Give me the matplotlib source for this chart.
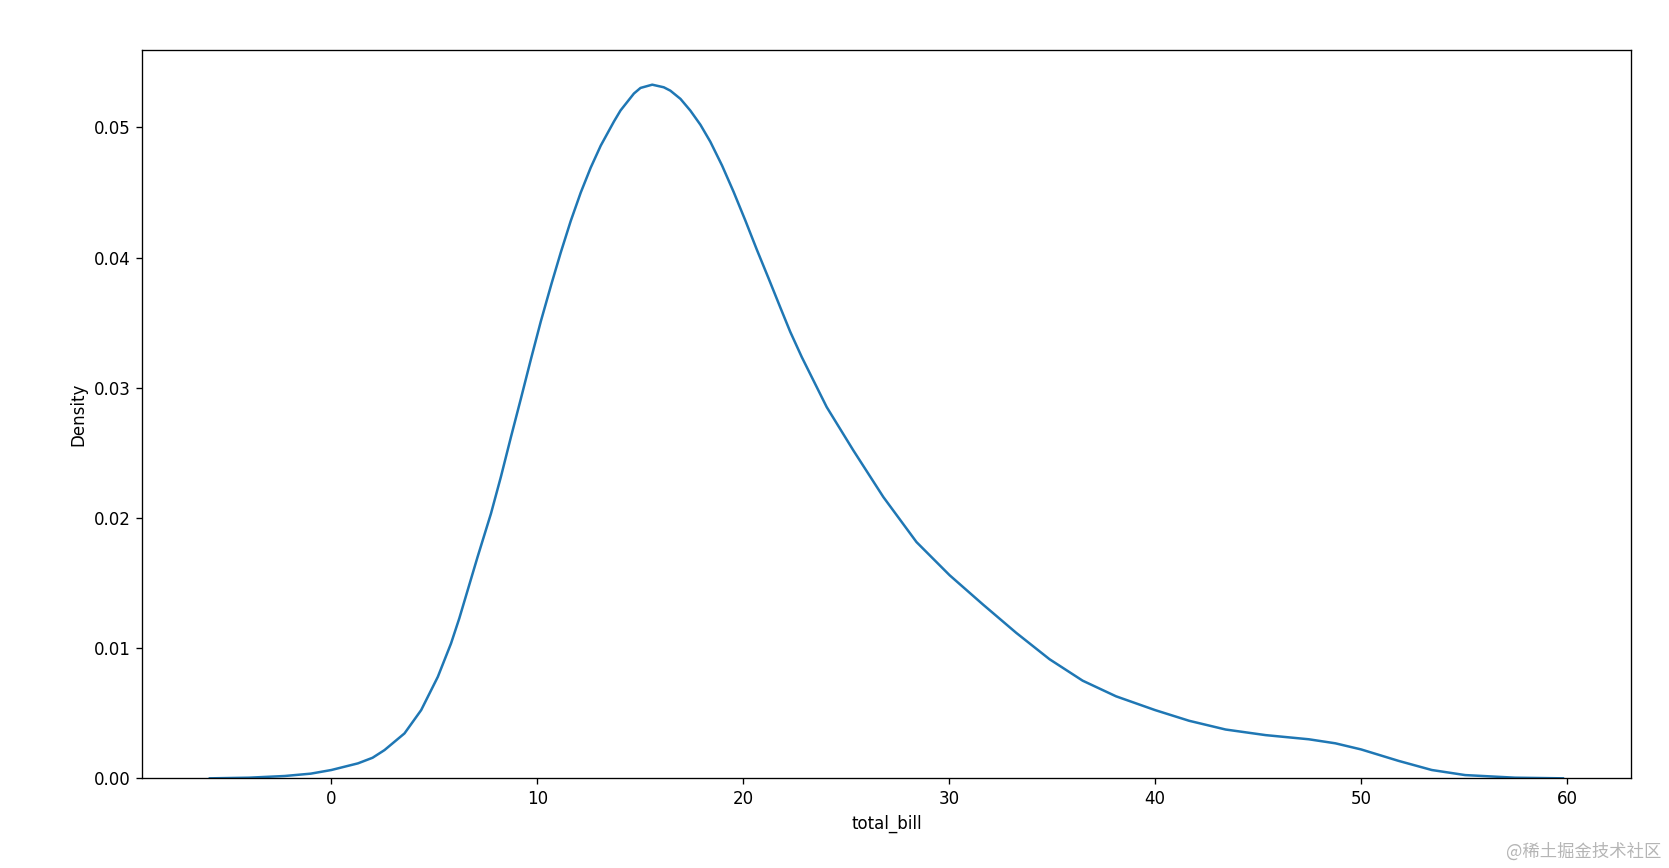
import matplotlib
matplotlib.use("Agg")
import matplotlib.pyplot as plt

# KDE curve of total_bill
total_bill = [-5.9, -4.0, -2.26, -1.0, 0.0, 1.29, 2.0, 2.58, 3.55, 4.36,
              5.17, 5.81, 6.21, 7.10, 7.75, 8.23, 8.72, 9.20, 9.69, 10.17,
              10.69, 11.14, 11.62, 12.11, 12.59, 13.08, 13.72, 14.04, 14.69, 15.01,
              15.58, 16.14, 16.46, 16.95, 17.43, 17.92, 18.40, 18.97, 19.53, 20.10,
              20.66, 21.23, 21.79, 22.28, 22.84, 24.05, 25.34, 26.80, 28.41, 30.02,
              31.64, 33.25, 34.87, 36.48, 38.10, 40.00, 41.65, 43.42, 45.36, 47.46,
              48.75, 50.00, 51.82, 53.43, 55.05, 57.47, 59.80]
density = [0.0, 0.00005, 0.00018, 0.00036, 0.00064, 0.00115, 0.00158, 0.00217, 0.00345, 0.00524,
           0.0078, 0.01036, 0.01228, 0.01701, 0.02034, 0.02315, 0.02622, 0.02915, 0.0322, 0.0351,
           0.0380, 0.0404, 0.0428, 0.0450, 0.0469, 0.0486, 0.05045, 0.0513, 0.0526, 0.05303,
           0.05328, 0.05308, 0.05282, 0.05219, 0.05129, 0.05020, 0.04890, 0.04707, 0.04505, 0.04285,
           0.04060, 0.0384, 0.0362, 0.0343, 0.03236, 0.02852, 0.0252, 0.02161, 0.01815, 0.0156,
           0.01335, 0.01118, 0.00915, 0.0075, 0.0063, 0.00524, 0.00442, 0.00375, 0.00332, 0.00300,
           0.00269, 0.00222, 0.00134, 0.00064, 0.00025, 0.00005, 0.0]

x_label = "total_bill"
y_label = "Density"
watermark = "@稀土掘金技术社区"

DPI = 120
fig = plt.figure(figsize=(1669 / DPI, 868 / DPI), dpi=DPI)
ax = fig.add_axes([0.0852, 0.1033, 0.9770 - 0.0852, 0.9424 - 0.1033])
ax.plot(total_bill, density, color="#1f77b4", linewidth=1.5)
ax.set_ylim(bottom=0)
ax.set_xlabel(x_label)
ax.set_ylabel(y_label)

fig.text(0.9955, 0.019, watermark, ha="right", va="center", fontsize=10.4,
         color="#b5b5b5", family=["Noto Sans CJK SC", "DejaVu Sans"])

fig.savefig("out.png", dpi=DPI)
